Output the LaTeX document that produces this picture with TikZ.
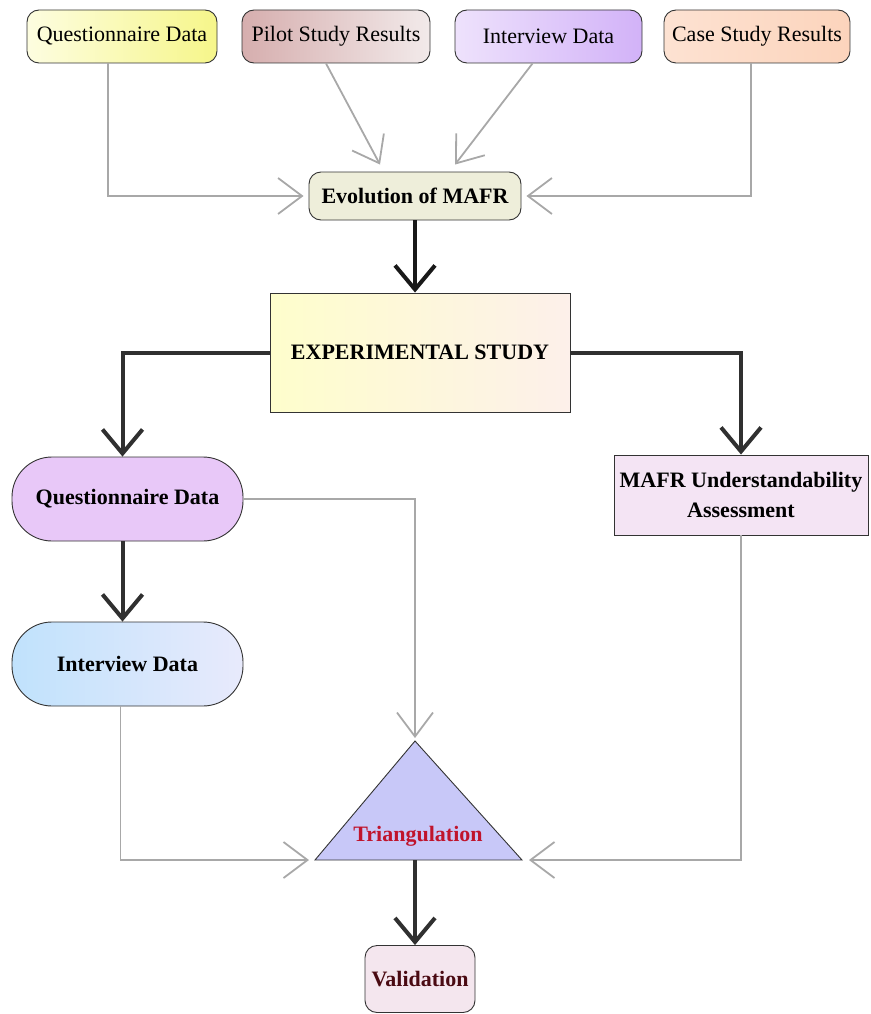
\documentclass[tikz,border=0pt]{standalone}
\usepackage{fontspec}
\setmainfont{Liberation Serif}
\usetikzlibrary{arrows.meta,calc}

\definecolor{qyl}{HTML}{FDFDE0}
\definecolor{qyr}{HTML}{F6F68A}
\definecolor{pil}{HTML}{D6AEAE}
\definecolor{pir}{HTML}{F2EAEA}
\definecolor{ivl}{HTML}{EEE2FC}
\definecolor{ivr}{HTML}{D2B2F8}
\definecolor{csl}{HTML}{FDE2D2}
\definecolor{csr}{HTML}{FCD4BC}
\definecolor{evofill}{HTML}{EEEEDA}
\definecolor{exl}{HTML}{FEFECC}
\definecolor{exr}{HTML}{FDF0EA}
\definecolor{qmfill}{HTML}{E8C8F8}
\definecolor{iml}{HTML}{C0E2FC}
\definecolor{imr}{HTML}{E8EAFC}
\definecolor{mafill}{HTML}{F4E4F4}
\definecolor{trifill}{HTML}{C8C8F8}
\definecolor{valfill}{HTML}{F4E6EE}
\definecolor{trired}{HTML}{C0142C}
\definecolor{valtext}{HTML}{4A0A12}
\definecolor{linegray}{HTML}{A8A8A8}
\definecolor{flowdark}{HTML}{303030}

\begin{document}
\begin{tikzpicture}[x=1pt,y=-1pt,
  box/.style={draw=black!80, line width=0.9pt, inner sep=0pt,
    font=\fontsize{22}{26}\selectfont},
  src/.style={box, rounded corners=12pt, minimum height=53pt},
  bbox/.style={box, font=\fontsize{22}{30}\selectfont\bfseries},
  pill/.style={bbox, rounded corners=40pt, minimum width=231pt, minimum height=84pt},
  feed/.style={draw=linegray, line width=1.8pt,
    -{Straight Barb[length=24pt,width=36pt]}},
  flow/.style={draw=flowdark, line width=4pt,
    -{Straight Barb[length=24pt,width=40pt]}},
]
\useasboundingbox (0,0) rectangle (870,1014);

% input sources
\node[src, minimum width=190pt, left color=qyl, right color=qyr] (qsrc) at (122,36.5) {Questionnaire Data};
\node[src, minimum width=188pt, left color=pil, right color=pir] (pilot) at (336,36.5) {Pilot Study Results};
\node[src, minimum width=187pt, left color=ivl, right color=ivr] (isrc) at (548.5,36.5) {Interview Data};
\node[src, minimum width=186pt, left color=csl, right color=csr] (case) at (757,36.5) {Case Study Results};

% framework evolution and the study
\node[bbox, rounded corners=12pt, fill=evofill, minimum width=212pt, minimum height=48pt] (evo) at (415,196) {Evolution of MAFR};
\node[bbox, left color=exl, right color=exr, minimum width=300pt, minimum height=119pt] (exp) at (420,352.5) {EXPERIMENTAL STUDY};

% study outputs
\node[pill, fill=qmfill] (qmid) at (127.5,499) {Questionnaire Data};
\node[pill, left color=iml, right color=imr] (imid) at (127.5,664) {Interview Data};
\node[bbox, fill=mafill, align=center, minimum width=254pt, minimum height=80pt] (mafr) at (741,495) {MAFR Understandability\\Assessment};

% triangulation
\coordinate (apex) at (415,741);
\coordinate (bl) at (315,860);
\coordinate (br) at (522,860);
\coordinate (bm) at (415,860);
\filldraw[fill=trifill, draw=black!80, line width=0.9pt] (apex) -- (br) -- (bl) -- cycle;
\node[font=\fontsize{22}{26}\selectfont\bfseries, text=trired] (tri) at (418,836) {Triangulation};

\node[bbox, rounded corners=12pt, fill=valfill, text=valtext, minimum width=110pt, minimum height=67pt] (val) at (420,979) {Validation};

% feeds into the evolution of the framework
\draw[feed, shorten >=5pt] ([xshift=-14pt]qsrc.south) |- (evo.west);
\draw[feed] ([xshift=-10pt]pilot.south) -- ($(evo.north)+(-35,-7)$);
\draw[feed] ([xshift=-16pt]isrc.south) -- ($(evo.north)+(40,-7)$);
\draw[feed, shorten >=5pt] ([xshift=-6pt]case.south) |- (evo.east);

% main flow
\draw[flow, draw=black!90] (evo.south) -- (evo.south |- exp.north);
\draw[flow] (exp.west) -| ([xshift=-5pt]qmid.north);
\draw[flow] (exp.east) -| (mafr.north);
\draw[flow] ([xshift=-5pt]qmid.south) -- ([xshift=-5pt]imid.north);

% inputs to triangulation
\draw[feed] (qmid.east) -| ($(apex)+(0,-3)$);
\draw[feed, shorten >=6pt] ([xshift=-7pt]imid.south) |- (bl);
\draw[feed, shorten >=7pt] (mafr.south) |- (br);

\draw[flow] (bm) -- (bm |- val.north);
\end{tikzpicture}
\end{document}
